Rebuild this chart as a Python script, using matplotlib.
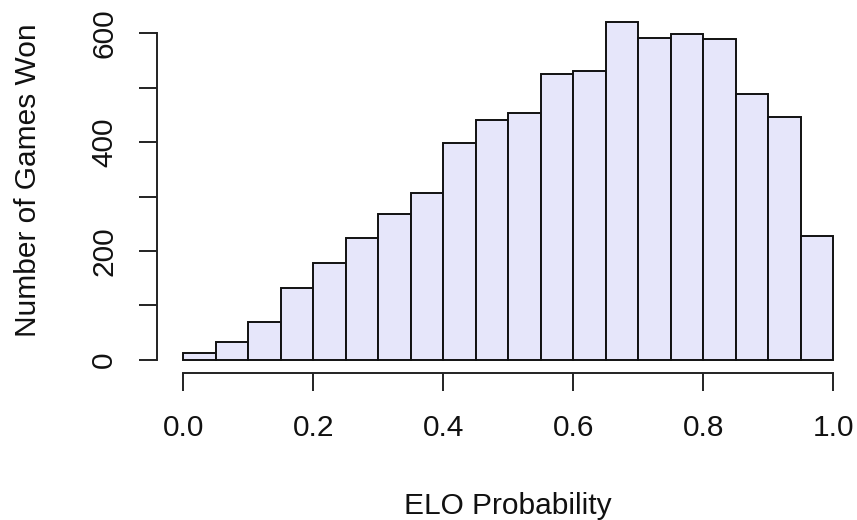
import matplotlib.pyplot as plt

plt.rcParams['font.family'] = ['Liberation Sans', 'DejaVu Sans']

# histogram of ELO probability for won games (bin width 0.05)
bin_edges = [i * 0.05 for i in range(21)]
counts = [12, 32, 70, 132, 178, 224, 268, 306, 399, 441,
          453, 526, 530, 620, 591, 598, 590, 489, 446, 228]
x_ticks = [0.0, 0.2, 0.4, 0.6, 0.8, 1.0]
y_ticks = [0, 100, 200, 300, 400, 500, 600]
y_tick_labels = ["0", "", "200", "", "400", "", "600"]

W, H = 857, 520
fig = plt.figure(figsize=(W / 100, H / 100), dpi=100)
ax = fig.add_axes([157.3 / W, 1 - 373.3 / H, 702 / W, (373.3 - 8.9) / H])

widths = [bin_edges[i + 1] - bin_edges[i] for i in range(len(counts))]
ax.bar(bin_edges[:-1], counts, width=widths, align="edge",
       color="#E6E6FA", edgecolor="#111111", linewidth=1.4)

ax.set_xlim(-0.04, 1.04)
ax.set_ylim(-24.8, 644.8)

for s in ["top", "right"]:
    ax.spines[s].set_visible(False)
ax.spines["left"].set_bounds(0, 600)
ax.spines["bottom"].set_bounds(0, 1)
for s in ["left", "bottom"]:
    ax.spines[s].set_linewidth(1.4)
    ax.spines[s].set_color("#222222")

ax.set_xticks(x_ticks)
ax.set_xticklabels(["%.1f" % v for v in x_ticks])
ax.set_yticks(y_ticks)
ax.set_yticklabels(y_tick_labels, rotation=90, va="center")

ax.tick_params(axis="both", length=13.2, width=1.4, color="#222222",
               labelsize=21.5, labelcolor="#111111")
ax.tick_params(axis="x", pad=16)
ax.tick_params(axis="y", pad=15)

fig.text(508 / W, 1 - 514.5 / H, "ELO Probability", ha="center",
         va="baseline", fontsize=21.5, color="#111111")
fig.text(28 / W, 1 - 180 / H, "Number of Games Won", ha="center",
         va="center", rotation=90, fontsize=21.5, color="#111111")

fig.savefig("out.png", dpi=100)
